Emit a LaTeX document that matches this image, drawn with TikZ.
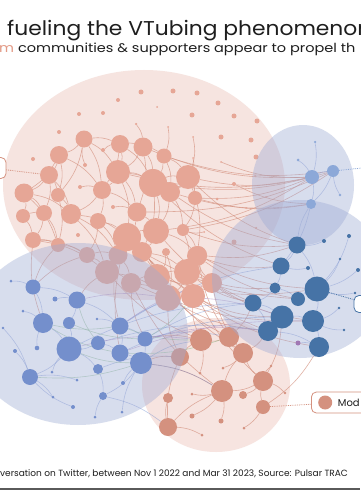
\documentclass[tikz,border=0pt]{standalone}
\usepackage{fontspec}
\setmainfont{Poppins}
\newfontfamily\widefont[FakeStretch=1.09]{Poppins}
\newfontfamily\subfont[FakeStretch=1.16]{Poppins}
\usetikzlibrary{positioning}
\definecolor{vtink}{HTML}{1E1E1E}
\definecolor{vtpink}{HTML}{E6A696}
\definecolor{vtpinkdk}{HTML}{D4917F}
\definecolor{vtpinkbg}{HTML}{F6E4E0}
\definecolor{vtpinkov}{HTML}{EBBDB2}
\definecolor{vtsub}{HTML}{E39A86}
\definecolor{vtblue}{HTML}{5A7DC8}
\definecolor{vtbluedk}{HTML}{4673A6}
\definecolor{vtbluelt}{HTML}{8CA8D8}
\definecolor{vtbluebg}{HTML}{9DAAD4}
\definecolor{vtgreen}{HTML}{8CBE8C}
\definecolor{vtpurple}{HTML}{A078B4}
\definecolor{vtrule}{HTML}{5A5A5A}
\pgfdeclarelayer{bg}
\pgfdeclarelayer{links}
\pgfdeclarelayer{veil}
\pgfdeclarelayer{front}
\pgfsetlayers{bg,links,main,veil,front}

\begin{document}
\begin{tikzpicture}[x=1pt, y=-1pt, line cap=round, line join=round,
  pnode/.style={circle, inner sep=0pt, fill=vtpink},
  cnode/.style={circle, inner sep=0pt, fill=vtpinkdk},
  bnode/.style={circle, inner sep=0pt, fill=vtblue},
  rnode/.style={circle, inner sep=0pt, fill=vtbluedk},
  tnode/.style={circle, inner sep=0pt, fill=vtbluelt},
  pedge/.style={draw=vtpinkdk, draw opacity=0.7, line width=0.6pt},
  bedge/.style={draw=vtblue, draw opacity=0.4, line width=0.6pt},
  gedge/.style={draw=vtgreen, draw opacity=0.55, line width=0.6pt},
  vedge/.style={draw=vtpurple, draw opacity=0.45, line width=0.6pt},
  cluster/.style={fill=vtbluebg, fill opacity=0.4},
  callout/.style={draw, fill=white, rounded corners=5pt, line width=0.8pt}]
  \useasboundingbox (0,0) rectangle (360,500);
  \clip (0,0) rectangle (360,500);

  % community backgrounds (blue ones go on the veil layer)
  \begin{pgfonlayer}{bg}
    \fill[white] (0,0) rectangle (360,500);
    \fill[vtpinkbg] (144,185) ellipse [x radius=141, y radius=115];
    \fill[vtpinkov, fill opacity=0.4] (216,385) ellipse [x radius=74, y radius=67];
  \end{pgfonlayer}
  \begin{pgfonlayer}{veil}
    \fill[cluster] (78,334) ellipse [x radius=110, y radius=91];
    \fill[cluster] (300,279) ellipse [x radius=88, y radius=79];
    \fill[cluster] (303,185) ellipse [x radius=51, y radius=60];
  \end{pgfonlayer}

  % nodes: name/x/y/diameter
  \foreach \n/\x/\y/\d in {a1/84/139/17, a2/120/144/18, a3/143/147/19,
      a4/164/156/15, a5/59/155/18, a6/49/175/18, a7/118/172/24,
      a8/153/183/28, a9/188/177/24, a10/170/192/20, a11/102/190/18,
      a12/24/193/19, a13/58/195/14, a14/195/198/14, a15/44/213/16,
      a16/71/214/20, a17/98/221/16, a18/137/212/19, a19/23/216/14,
      a20/33/240/16, a21/58/245/14, a22/127/237/28, a23/156/231/26,
      a24/183/230/12, a25/87/255/16, a26/118/255/19, a27/142/252/20,
      a28/166/252/8, a29/198/255/18, a30/107/272/24, a31/131/283/20,
      a32/157/277/26, a33/187/272/26, a34/168/298/26, a35/193/296/24,
      a36/212/283/20, a37/197/256/20}
    \node[pnode, minimum size=\d pt] (\n) at (\x,\y) {};
  \foreach \n/\x/\y/\d in {d1/141/92/5, d2/173/91/5, d3/118/100/4,
      d4/157/107/2, d5/79/114/4, d6/103/113/4, d7/136/124/2.5,
      d8/168/127/2, d9/59/132/4, d10/33/159/4, d11/85/165/4,
      d12/80/187/4, d13/103/150/4, d14/50/173/2, d15/113/207/4,
      d16/197/93/5, d17/218/103/5, d18/192/115/5, d19/234/116/5,
      d20/257/121/5, d21/221/137/5, d22/251/140/5, d23/193/137/2,
      d24/256/157/5, d25/193/158/2, d26/221/162/2, d27/255/176/2,
      d28/234/184/4, d29/217/199/3, d30/246/208/2, d31/266/197/2,
      d32/78/235/4, d33/204/232/2, d34/234/242/5, d35/256/228/2.5}
    \node[pnode, minimum size=\d pt] (\n) at (\x,\y) {};
  \foreach \n/\x/\y/\d in {c1/201/340/22, c2/229/337/20, c3/243/353/20,
      c4/263/381/20, c5/222/391/22, c6/243/395/8, c7/263/407/14,
      c8/168/398/10, c9/180/357/18, c10/168/427/18, c11/192/416/5,
      c12/221/421/5, c13/202/435/3, c14/244/428/3, c15/200/373/3,
      c16/192/394/3, c17/223/368/3, c18/271/366/2.6, c19/285/393/2.6}
    \node[cnode, minimum size=\d pt] (\n) at (\x,\y) {};
  \foreach \n/\x/\y/\d in {b1/33/287/15, b2/55/299/5, b3/77/300/17,
      b4/43/323/20, b5/69/323/12, b6/23/311/3, b7/11/281/3, b8/3/328/2.6,
      b9/97/319/2.6, b10/120/326/17, b11/145/339/15, b12/98/343/14,
      b13/69/349/25, b14/37/348/4.6, b15/15/351/4, b16/120/353/17,
      b17/141/363/22, b18/98/369/10, b19/30/377/16, b20/52/372/3,
      b21/77/380/3, b22/123/383/4, b23/103/396/8, b24/53/397/3,
      b25/73/407/4, b26/95/417/3, b27/122/412/3}
    \node[bnode, minimum size=\d pt] (\n) at (\x,\y) {};
  \begin{pgfonlayer}{front}
    \foreach \n/\x/\y/\d in {t1/312/177/14, t2/333/171/12, t3/311/204/10,
        t4/298/160/3, t5/315/142/2.5, t6/340/195/2.6}
      \node[tnode, minimum size=\d pt] (\n) at (\x,\y) {};
    \foreach \n/\x/\y/\d in {r1/297/245/17, r2/281/266/17, r3/275/288/11,
        r4/253/303/17, r5/268/331/20, r6/282/317/23, r7/298/299/14,
        r8/317/289/25, r9/313/321/22, r10/319/347/20, r11/308/268/4,
        r12/324/241/4, r13/349/236/4, r14/340/259/2.6, r15/358/270/4,
        r16/355/293/2.6, r17/339/308/2.6, r18/344/330/2.6}
      \node[rnode, minimum size=\d pt] (\n) at (\x,\y) {};
    \node[circle, inner sep=0pt, fill=vtpurple, minimum size=5pt] (r19)
      at (298,343) {};
  \end{pgfonlayer}

  % connectors
  \begin{pgfonlayer}{links}
  \foreach \a/\b in {a1/a2, a1/a5, a1/a7, a2/a3, a2/a7, a3/a4, a3/a8,
      a4/a9, a5/a6, a5/a11, a6/a12, a6/a13, a7/a8, a7/a11, a7/a18,
      a8/a9, a8/a10, a8/a23, a9/a14, a9/a10, a10/a23, a11/a16, a11/a17,
      a12/a15, a12/a19, a13/a16, a15/a20, a16/a22, a17/a22, a18/a23,
      a18/a22, a19/a20, a20/a21, a21/a25, a22/a26, a22/a27, a23/a27,
      a23/a29, a24/a29, a25/a30, a26/a30, a27/a32, a28/a32, a29/a33,
      a30/a31, a31/a32, a32/a33, a33/a34, a34/a35, a35/a36, a36/a37,
      a37/a29, a1/a13, a3/a18, a5/a12, a6/a15, a2/a11, a4/a10,
      a14/a24, a9/a37, a7/a22, a12/a21, a13/a21, a26/a31, a25/a26,
      a20/a30, a16/a26, a27/a34, a31/a34, a24/a33, a28/a34, a10/a24,
      a22/a32, a8/a27, a17/a25, a3/a7, d7/a3, d23/a9, d25/a9, d13/a2,
      d11/a1, d12/a11, d15/a18, d8/a4, d33/a24, a6/a16, a15/a21,
      a1/a11, a5/a13, a12/a16, a19/a15, a2/a8, a4/a8, a7/a10, a11/a18,
      a16/a30, a17/a26, a22/a23, a27/a33, a30/a34, a32/a35, a20/a25}
    \draw[pedge] (\a) to[bend left=14] (\b);
  \foreach \a/\b in {a9/t1, a8/t2, a3/t1, a14/t1, a4/t2, a10/t3,
      a23/t1, a24/r1, a29/r1, a37/r2, a33/r4, a36/r4, a35/r6, a34/r5,
      a32/r8, a27/r7, a9/r1, a14/t3, a8/r2, a29/r8, a36/r9, a35/r10,
      a33/r3, a37/r7, a23/r4, a22/r5, a31/r9, d26/t1, d28/t3, a30/c1,
      a32/c2, a34/c9, a35/c1, a36/c3, a33/c4, a31/c5, a29/c2, a27/c3,
      a26/b10, a30/b3, a31/b11, a22/b16, a25/b1, a21/b1, a20/b4,
      c1/c2, c2/c3, c3/c4, c1/c9, c5/c4, c5/c10, c9/c10, c4/c7, c3/c5,
      c8/c10, c11/c5, c12/c5, c13/c10, c14/c7, c6/c4, c15/c1, c16/c5,
      c17/c3, c18/c4, c19/c4, c1/b11, c4/r6, c7/r10, c2/r4, c3/r5,
      c9/b17, c5/b17, a7/t1, a18/t2, a10/r1, a24/t2}
    \draw[pedge] (\a) to[bend right=12] (\b);
  \foreach \a/\b in {b1/b3, b1/b4, b3/b10, b4/b13, b5/b13, b3/b5,
      b10/b11, b10/b16, b11/b17, b12/b13, b13/b19, b13/b18, b16/b17,
      b17/b23, b18/b23, b19/b24, b19/b21, b22/b17, b14/b4, b7/b1,
      b6/b4, b15/b19, b8/b19, b12/b16, b20/b13, b25/b19, b26/b23,
      b27/b17, b2/b3, b9/b10, b11/r4, b16/r6, b17/c1, b10/a35,
      b12/r5, b13/r4, b18/c9, b23/c10, b11/c2, b17/c5, b10/r2,
      r1/r2, r2/r3, r3/r7, r7/r8, r8/r9, r6/r9, r5/r6,
      r4/r6, r4/r5, r9/r10, r1/r8, r11/r2, r12/r1, r13/r8, r14/r8,
      r15/r8, r16/r8, r17/r9, r18/r9, r3/r4, r5/r10, r1/t3, t3/r2,
      t1/t2, t1/t3, t2/t3, t4/t1, t6/t2, t5/t1, r19/r10}
    \draw[bedge] (\a) to[bend left=12] (\b);
  \foreach \a/\b in {b4/b16, b13/b17, b5/b11, b3/b12, b10/c1,
      b11/a35, b16/c2, b19/b17, b4/b10}
    \draw[gedge] (\a) to[bend right=10] (\b);
  \foreach \a/\b in {b3/a34, b10/a36, b11/r5, b16/r9, a34/r6, b13/c1}
    \draw[vedge] (\a) to[bend left=10] (\b);
  \end{pgfonlayer}

  % callouts
  \begin{pgfonlayer}{front}
  \node[callout, draw=vtpinkdk, minimum width=30pt, minimum height=21pt]
    (leftbox) at (-9,168) {};
  \draw[vtpinkdk, densely dotted, line width=0.8pt] (leftbox) -- (a6);
  \node[callout, draw=vtbluedk, minimum width=30pt, minimum height=17pt]
    (rightbox) at (369,304) {};
  \draw[vtbluedk, densely dotted, line width=0.8pt] (r8) -- (rightbox);
  \coordinate (toprightend) at (362,168);
  \draw[vtbluelt, densely dotted, line width=0.8pt] (t2) -- (toprightend);
  \node[callout, draw=vtpinkdk, minimum width=60pt, minimum height=21pt,
    anchor=west] (legendbox) at (311,402.5) {};
  \node[circle, inner sep=0pt, fill=vtpinkdk, minimum size=14pt,
    right=7pt of legendbox.west] (legenddot) {};
  \node[anchor=west, font=\fontsize{10}{12}\selectfont, text=vtink,
    right=2pt of legenddot] (legendtext) {Mod};
  \draw[vtpinkdk, densely dotted, line width=0.8pt] (c7) -- (legendbox);

  % texts
  \node[anchor=base west, inner sep=0pt, text=vtink,
    font=\widefont\fontsize{20}{24}\selectfont] (title) at (7,36)
    {fueling the VTubing phenomenon};
  \node[anchor=base west, inner sep=0pt, text=vtink,
    font=\subfont\fontsize{12.5}{15}\selectfont] (subtitle) at (-1,53)
    {\textcolor{vtsub}{m} communities \& supporters appear to propel th};
  \node[anchor=base west, inner sep=0pt, text=vtink,
    font=\fontsize{9}{11}\selectfont] (footer) at (0,476)
    {versation on Twitter, between Nov 1 2022 and Mar 31 2023, Source: Pulsar TRAC};
  \draw[vtrule, line width=1.2pt] (0,489) -- (360,489);
  \end{pgfonlayer}
\end{tikzpicture}
\end{document}
